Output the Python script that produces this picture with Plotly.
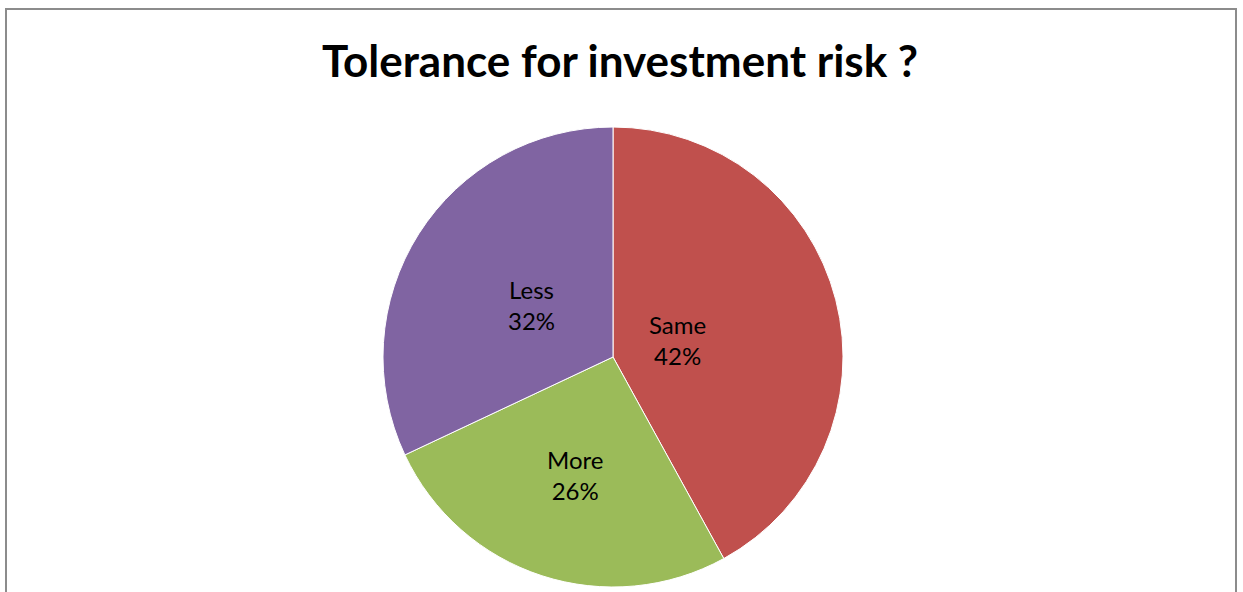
import math
import plotly.graph_objects as go

# Survey answers and their shares
categories = ["Same", "More", "Less"]
shares = [42, 26, 32]
slice_colors = ["#C0504D", "#9BBB59", "#8064A2"]

W, H = 1243, 592

# pie circle: centre (613, 357), radius 230 px
cx, cy, r = 613, 357, 230

# how far out (as a share of the radius) each slice label sits
label_depth = {"Same": 0.29, "More": 0.54, "Less": 0.42}

fig = go.Figure(
    go.Pie(
        labels=categories,
        values=shares,
        sort=False,
        direction="clockwise",
        rotation=0,
        marker=dict(colors=slice_colors, line=dict(color="#FFFFFF", width=1)),
        textinfo="none",
        hoverinfo="skip",
        showlegend=False,
        domain=dict(
            x=[(cx - r) / W, (cx + r) / W],
            y=[1 - (cy + r) / H, 1 - (cy - r) / H],
        ),
    )
)

# slice labels placed along each slice's mid-angle (clockwise from 12 o'clock)
total = sum(shares)
annotations = []
start = 0.0
for name, val in zip(categories, shares):
    frac = val / total
    mid = (start + frac / 2) * 2 * math.pi
    start += frac
    d = label_depth[name] * r
    px = cx + d * math.sin(mid)
    py = cy - d * math.cos(mid)
    annotations.append(
        dict(
            x=px / W,
            y=1 - py / H,
            xref="paper",
            yref="paper",
            text=f"{name}<br>{round(frac * 100)}%",
            showarrow=False,
            xanchor="center",
            yanchor="middle",
            align="center",
            font=dict(family="Lato", size=24, color="#000000"),
        )
    )

fig.update_layout(
    width=W,
    height=H,
    margin=dict(l=0, r=0, t=0, b=0),
    paper_bgcolor="#FFFFFF",
    plot_bgcolor="#FFFFFF",
    title=dict(
        text="<b>Tolerance for investment risk ?</b>",
        x=620 / W,
        xanchor="center",
        y=1 - 62 / H,
        yanchor="middle",
        font=dict(family="Lato", size=44, color="#000000"),
    ),
    annotations=annotations,
    shapes=[
        dict(
            type="rect",
            xref="paper",
            yref="paper",
            x0=6 / W,
            x1=1236 / W,
            y0=-0.05,
            y1=1 - 9 / H,
            line=dict(color="#8C8C8C", width=2),
            fillcolor="rgba(0,0,0,0)",
            layer="below",
        )
    ],
)

fig.write_html("out.html")
